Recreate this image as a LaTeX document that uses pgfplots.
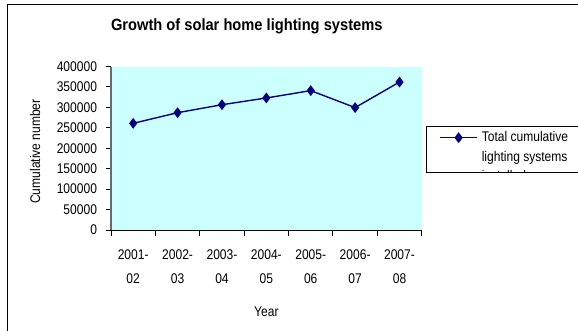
\documentclass[border=0pt]{standalone}
\usepackage{pgfplots}
\pgfplotsset{compat=1.18}
\usepackage{fontspec}
\setmainfont{Liberation Sans}[FakeStretch=0.86]
\newfontfamily\titlefont{Liberation Sans}[FakeStretch=0.90]

\definecolor{plotbg}{RGB}{204,255,255}
\definecolor{series}{RGB}{0,0,128}
\definecolor{leftaxis}{RGB}{96,112,112}

% legend text: three lines, the box is cut below the second one
\newcommand\legtext{\vtop to 46.3pt{\baselineskip=20.5pt\lineskiplimit=-50pt
  \hbox to 110pt{\vrule height 15pt width 0pt Total cumulative\hss}
  \hbox to 110pt{lighting systems\hss}
  \vskip -1.5pt
  \hbox to 110pt{installed\hss}\vss}}

\begin{document}
\begin{tikzpicture}
\useasboundingbox (0pt,0pt) rectangle (578pt,-331pt);
\clip (0pt,0pt) rectangle (578pt,-331pt);
\draw[black, line width=1pt] (7pt,-5pt) rectangle (700pt,-500pt);
\begin{axis}[
  scale only axis,
  width=310.7pt, height=163.5pt,
  at={(111pt,-230pt)}, anchor=south west,
  font=\fontsize{14}{16.5}\selectfont,
  xmin=-0.5, xmax=6.5,
  ymin=0, ymax=400000,
  axis background/.style={fill=plotbg},
  axis x line*=bottom, axis y line*=left,
  x axis line style={black, line width=1pt, -},
  y axis line style={leftaxis, line width=1.4pt, -},
  tick align=outside,
  major tick length=5.5pt, minor tick length=5.5pt,
  tick style={black, line width=0.9pt},
  xtick={0,...,6},
  xticklabels={{2001-\\02},{2002-\\03},{2003-\\04},{2004-\\05},{2005-\\06},{2006-\\07},{2007-\\08}},
  major x tick style={draw=none},
  minor xtick={-0.5,0.5,...,6.5},
  xticklabel style={align=center, font=\fontsize{14}{23.4}\selectfont, yshift=-11pt},
  ytick={0,50000,...,400000},
  scaled y ticks=false,
  yticklabel style={/pgf/number format/fixed, /pgf/number format/1000 sep={}, xshift=-5pt},
  /pgf/number format/assume math mode=true,
  xlabel={Year},
  xlabel style={at={(axis description cs:0.5,-0.5015)}, anchor=center},
  ylabel={Cumulative number},
  ylabel style={at={(axis description cs:-0.2446,0.48)}, anchor=center},
  title={Growth of solar home lighting systems},
  title style={at={(axis description cs:0.437,1.182)}, anchor=base,
    font=\titlefont\fontsize{16.3}{20}\selectfont\bfseries},
  legend style={name=leg, at={(axis description cs:1.0139,0.6379)}, anchor=north west,
    draw=black, line width=0.8pt, fill=white,
    inner xsep=13pt, inner ysep=0pt, column sep=4pt,
    cells={anchor=base west},
    nodes={inner sep=0pt, text depth={}}},
  legend image code/.code={\draw[mark repeat=2, mark phase=2]
    plot coordinates {(0pt,3.4pt) (18.5pt,3.4pt) (37pt,3.4pt)};},
]
\addplot[series, line width=1.4pt, mark=diamond*, mark size=4.3pt,
  mark options={solid, fill=series}]
  coordinates {(0,261000) (1,287000) (2,306500) (3,323000) (4,341000) (5,299500) (6,362000)};
\addlegendentry{\legtext}
\end{axis}
\fill[white] ([yshift=-0.6pt]leg.south west) rectangle ++(250pt,-60pt);
\end{tikzpicture}
\end{document}
